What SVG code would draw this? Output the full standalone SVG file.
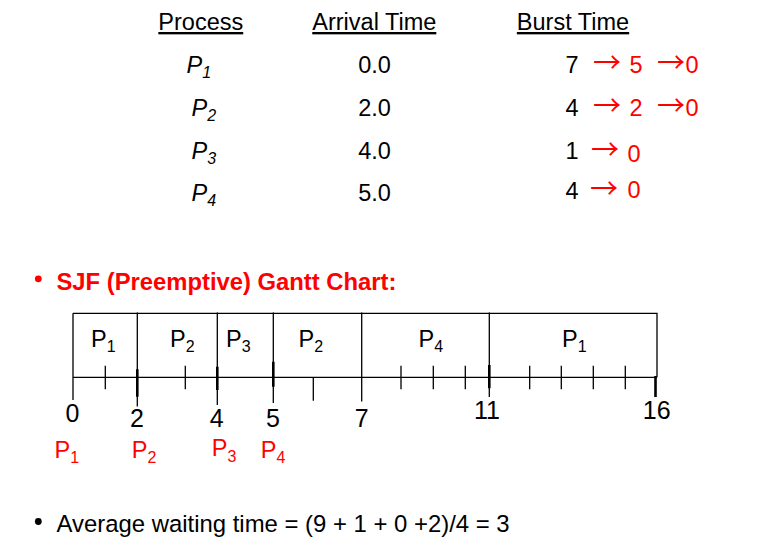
<svg xmlns="http://www.w3.org/2000/svg" width="774" height="547" viewBox="0 0 774 547">
<style>
text{font-family:"Liberation Sans",Arial,sans-serif;font-size:23.5px;fill:#000}
.h{text-decoration:underline}
.it{font-style:italic}
.r{fill:#ff0000}
.ar{fill:#ff0000;font-family:"Noto Sans CJK JP","Noto Sans CJK SC",sans-serif;font-size:28px}
.sub{font-size:16px}
.ax{font-size:25px}
.ln{stroke:#000;stroke-width:1.3;fill:none}
.tk{stroke:#000;stroke-width:1.3}
.tb{stroke:#000;stroke-width:2.6}
</style>
<rect width="774" height="547" fill="#fff"/>
<g id="table">
<text class="h" x="200.8" y="30" text-anchor="middle">Process</text>
<text class="h" x="374.3" y="30" text-anchor="middle">Arrival Time</text>
<text class="h" x="573" y="30" text-anchor="middle">Burst Time</text>

<text class="it" x="186.5" y="73">P<tspan class="sub" dy="5">1</tspan></text>
<text class="it" x="191.5" y="116">P<tspan class="sub" dy="5">2</tspan></text>
<text class="it" x="191.5" y="159">P<tspan class="sub" dy="5">3</tspan></text>
<text class="it" x="191.5" y="201">P<tspan class="sub" dy="5">4</tspan></text>

<text x="374.5" y="73" text-anchor="middle">0.0</text>
<text x="374.5" y="116" text-anchor="middle">2.0</text>
<text x="374.5" y="159" text-anchor="middle">4.0</text>
<text x="374.5" y="201" text-anchor="middle">5.0</text>

<text x="565.5" y="73">7 <tspan class="ar" x="593">→ </tspan><tspan class="r" x="629.5">5 </tspan><tspan class="ar" x="657">→</tspan><tspan class="r" x="685.5">0</tspan></text>
<text x="565.5" y="116">4 <tspan class="ar" x="593">→ </tspan><tspan class="r" x="629.5">2 </tspan><tspan class="ar" x="657">→</tspan><tspan class="r" x="685.5">0</tspan></text>
<text x="565.5" y="159">1 <tspan class="ar" x="591" dy="1">→ </tspan><tspan class="r" x="627.5" dy="2">0</tspan></text>
<text x="565.5" y="199">4 <tspan class="ar" x="590">→ </tspan><tspan class="r" x="627.5" dy="-1">0</tspan></text>
</g>
<g id="title">
<circle cx="38.3" cy="278.8" r="3.4" fill="#ff0000"/>
<text x="56.5" y="290" font-weight="bold" class="r" style="font-size:23.8px">SJF (Preemptive) Gantt Chart:</text>
</g>
<g id="gantt-boxes">
<path class="ln" d="M73 313.3H657V377.3"/>
<text x="91" y="347">P<tspan class="sub" dy="5">1</tspan></text>
<text x="170" y="347">P<tspan class="sub" dy="5">2</tspan></text>
<text x="226" y="347">P<tspan class="sub" dy="5">3</tspan></text>
<text x="298.5" y="347">P<tspan class="sub" dy="5">2</tspan></text>
<text x="418.5" y="347">P<tspan class="sub" dy="5">4</tspan></text>
<text x="562" y="347">P<tspan class="sub" dy="5">1</tspan></text>
</g>
<g id="connectors">
<path class="ln" d="M73 313.3V400M73 377.3H657"/>
<path class="ln" d="M137.3 312.5V406.5M217.3 312.5V405M273.3 312.5V403M361.7 312.5V401.5M489.3 312.5V397"/>
<path class="tb" d="M137.3 369.3V396.7M217.3 366.7V390M273.3 361.7V386.7M489.3 365V388.3M655.5 376V397"/>
<path class="tk" d="M105.3 365.7V389.3M185.3 365.7V389.3M401 365.7V389.3M433.3 365.7V389.3M465.3 365.7V389.3M529.7 365.7V389.3M561.3 365.7V389.3M593.3 365.7V389.3M625.3 365.7V389.3M313.3 377.3V400.7"/>
</g>
<g id="axis-labels">
<text class="ax" x="72.5" y="421.5" text-anchor="middle">0</text>
<text class="ax" x="137" y="427" text-anchor="middle">2</text>
<text class="ax" x="216.7" y="427" text-anchor="middle">4</text>
<text class="ax" x="273" y="427" text-anchor="middle">5</text>
<text class="ax" x="361.7" y="427" text-anchor="middle">7</text>
<text class="ax" x="487" y="419" text-anchor="middle">11</text>
<text class="ax" x="656.7" y="419" text-anchor="middle">16</text>
</g>
<g id="arrival-labels">
<text class="r" x="54.5" y="458">P<tspan class="sub" dy="5">1</tspan></text>
<text class="r" x="131.8" y="458">P<tspan class="sub" dy="5">2</tspan></text>
<text class="r" x="211.8" y="456">P<tspan class="sub" dy="5.5">3</tspan></text>
<text class="r" x="260.8" y="458">P<tspan class="sub" dy="5">4</tspan></text>
</g>
<g id="average">
<circle cx="38.3" cy="521.5" r="3.4" fill="#000"/>
<text x="56.5" y="531.5" style="font-size:23.9px">Average waiting time = (9 + 1 + 0 +2)/4 = 3</text>
</g>
</svg>
